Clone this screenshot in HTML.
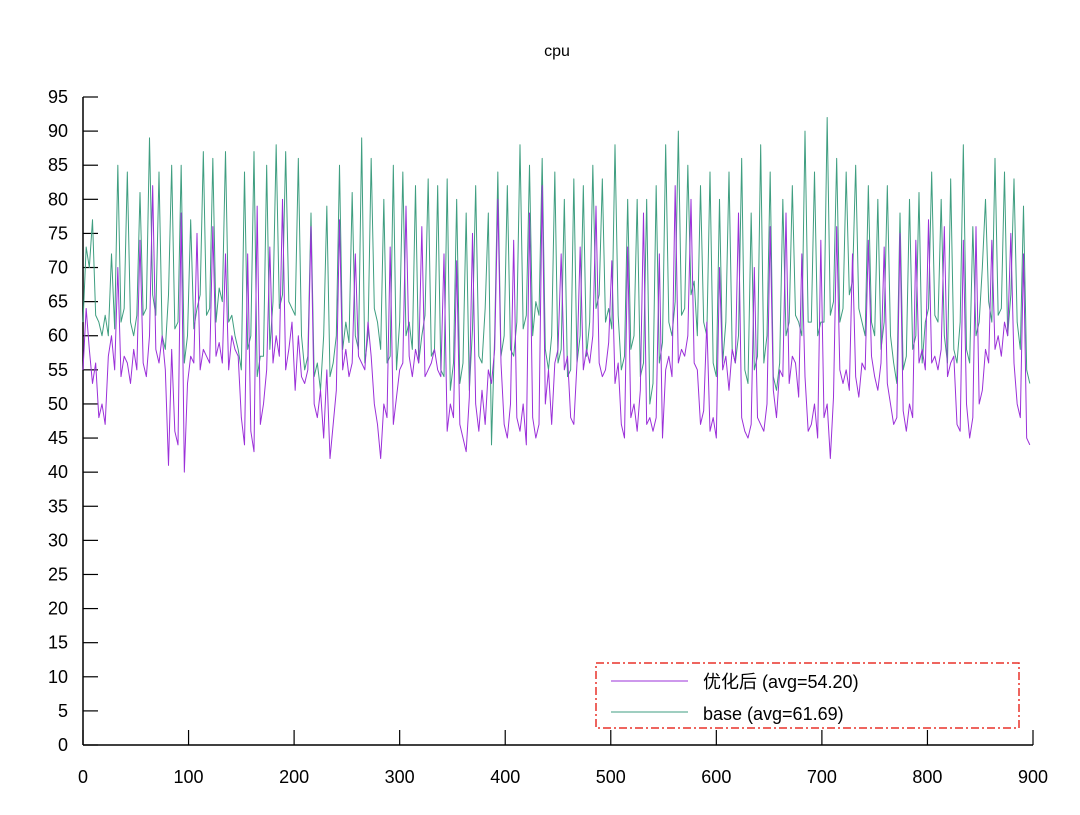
<!DOCTYPE html>
<html><head><meta charset="utf-8"><style>
body{margin:0;background:#fff;}
svg text{font-family:"Liberation Sans","Noto Sans CJK SC",sans-serif;fill:#000;}
</style></head><body>
<svg id="chart" width="1080" height="810" viewBox="0 0 1080 810" xmlns="http://www.w3.org/2000/svg">
<rect width="1080" height="810" fill="#fff"/>
<text x="557" y="56" font-size="16" text-anchor="middle">cpu</text>
<g id="axes"></g>
<g id="series"></g>
<g>
<rect x="596" y="663" width="423" height="65" fill="#fff" stroke="#e8322a" stroke-width="1.5" stroke-dasharray="8,3,2,3"/>
<line x1="611" y1="681" x2="688" y2="681" stroke="#9b30d9" stroke-width="1"/>
<text x="703" y="688" font-size="18">优化后 (avg=54.20)</text>
<line x1="611" y1="712" x2="688" y2="712" stroke="#3f9e80" stroke-width="1"/>
<text x="703" y="720" font-size="18">base (avg=61.69)</text>
</g>
</svg>
<script>
const xStep = 3;
const optimized = [
55,64,58,53,56,48,50,47,57,60, 55,70,54,57,56,53,58,55,74,56, 54,60,82,58,56,60,55,41,58,46,
44,78,40,53,57,56,75,55,58,57, 56,76,57,59,56,72,55,60,58,57, 48,44,72,46,43,79,47,50,55,73,
56,60,57,80,55,58,62,52,60,54, 53,55,76,50,48,52,45,55,42,47, 52,77,55,58,54,56,72,57,56,55,
62,57,50,47,42,50,48,73,47,51, 55,56,79,57,54,58,56,76,54,55, 56,58,55,54,72,46,50,48,71,47,
45,43,51,75,50,46,52,47,55,53, 58,80,56,47,45,50,74,48,46,50, 44,78,48,45,47,82,50,55,47,56,
58,72,55,57,48,47,56,73,55,58, 56,60,79,56,54,55,59,71,53,56, 47,45,73,48,50,46,52,78,47,48,
46,48,72,45,55,57,54,82,56,58, 57,60,80,56,55,47,49,62,46,48, 45,70,55,57,52,58,56,78,48,46,
45,47,70,48,47,46,50,76,52,48, 55,54,78,53,57,56,51,72,54,46, 47,50,45,74,48,50,42,51,76,55,
53,55,52,72,54,51,56,55,74,57, 54,52,56,73,53,50,47,48,75,49, 46,50,48,74,56,58,55,77,56,57,
55,58,76,54,56,57,47,46,74,50, 45,48,76,50,52,58,56,74,58,60, 57,62,60,75,56,50,48,72,45,44
];
const base = [
62,73,70,77,63,62,60,63,60,72, 61,85,62,64,84,62,60,63,81,63, 64,89,66,63,84,60,58,66,85,61,
62,85,56,60,77,61,64,66,87,63, 64,86,62,67,65,87,62,63,60,58, 55,84,58,60,87,54,57,57,85,58,
65,88,64,66,87,65,64,63,86,60, 55,57,78,54,56,52,60,79,54,56, 60,85,58,62,59,81,60,58,89,56,
60,86,64,62,58,80,56,57,85,55, 62,84,60,62,58,82,56,60,63,83, 57,58,82,55,54,83,52,56,80,53,
56,78,52,61,82,57,56,64,78,44, 60,84,57,60,82,58,57,62,88,61, 63,85,60,65,63,86,58,55,60,84,
56,58,80,54,55,83,56,60,82,57, 62,85,64,66,83,62,64,61,88,63, 55,57,80,58,60,80,54,56,80,50,
53,82,56,59,88,62,60,65,90,63, 64,85,66,68,60,82,62,60,84,56, 54,80,56,62,84,58,56,60,86,55,
53,78,55,57,88,56,60,84,54,52, 56,80,60,62,82,63,62,60,90,62, 62,84,60,62,62,92,63,65,86,62,
64,84,66,68,85,64,62,60,82,62, 60,80,58,62,82,60,56,53,78,55, 57,80,58,60,81,56,62,64,84,63,
62,80,60,56,83,58,56,62,88,58, 56,76,60,62,70,80,65,62,86,63, 64,84,60,66,83,62,58,79,55,53
];
const xTicks = [0,100,200,300,400,500,600,700,800,900];
const yTicks = [0,5,10,15,20,25,30,35,40,45,50,55,60,65,70,75,80,85,90,95];

const X0=83,X1=1033,Y0=745,Y1=97;
const xs = v => X0 + (v-0)/(900-0)*(X1-X0);
const ys = v => Y0 - (v-0)/(95-0)*(Y0-Y1);
const NS="http://www.w3.org/2000/svg";
const axes=document.getElementById('axes');
function mk(tag,attrs,parent){const e=document.createElementNS(NS,tag);for(const k in attrs)e.setAttribute(k,attrs[k]);parent.appendChild(e);return e;}

const xa=mk('line',{x1:X0,y1:Y0,x2:X1,y2:Y0,stroke:'#000','stroke-width':1.5},axes);


const ya=mk('line',{x1:X0,y1:Y0,x2:X0,y2:Y1,stroke:'#000','stroke-width':1.5},axes);



xTicks.forEach(t=>{
  const x=xs(t);
  const l=mk('line',{x1:x,y1:Y0,x2:x,y2:Y0-15,stroke:'#000','stroke-width':1.2},axes);
  
  
  const tx=mk('text',{x:x,y:783,'font-size':18,'text-anchor':'middle'},axes);
  tx.textContent=t;
  
  
});
yTicks.forEach(t=>{
  const y=ys(t);
  const l=mk('line',{x1:X0,y1:y,x2:X0+15,y2:y,stroke:'#000','stroke-width':1.2},axes);
  
  
  const tx=mk('text',{x:68,y:y+6,'font-size':18,'text-anchor':'end'},axes);
  tx.textContent=t;
  
  
});

const sg=document.getElementById('series');
function line(data,color,name){
  const d=data.map((v,i)=>(i?'L':'M')+xs(i*xStep).toFixed(2)+','+ys(v).toFixed(2)).join('');
  const p=mk('path',{d:d,fill:'none',stroke:color,'stroke-width':1,'stroke-linejoin':'round'},sg);
  
  
}
line(base,'#3f9e80','series-base');
line(optimized,'#9b30d9','series-optimized');
</script>
</body></html>
